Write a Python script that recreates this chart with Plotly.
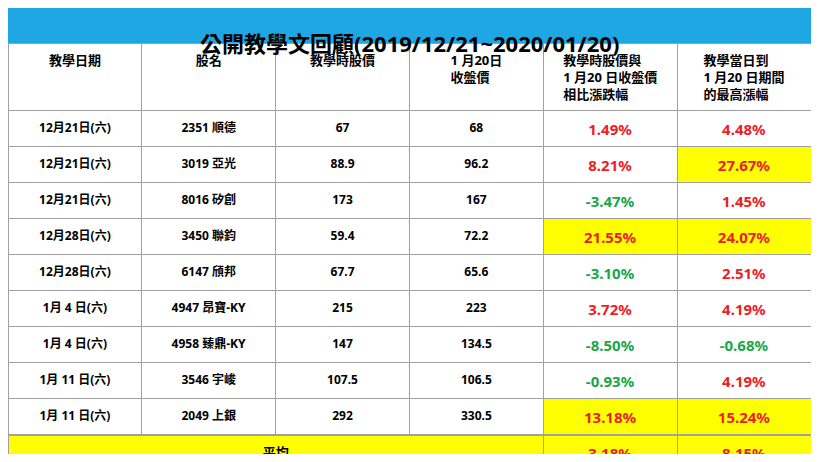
import plotly.graph_objects as go

dates = ["12月21日(六)", "12月21日(六)", "12月21日(六)", "12月28日(六)", "12月28日(六)",
         "1月 4 日(六)", "1月 4 日(六)", "1月 11 日(六)", "1月 11 日(六)", "1月 18 日(六)", "1月 18 日(六)"]
stocks = ["2351 順德", "3019 亞光", "8016 矽創", "3450 聯鈞", "6147 頎邦", "4947 昂寶-KY",
          "4958 臻鼎-KY", "3546 宇峻", "2049 上銀", "8271 宇瞻", "6213 聯茂"]
price_teach = ["67", "88.9", "173", "59.4", "67.7", "215", "147", "107.5", "292", "46.2", "144.5"]
price_close = ["68", "96.2", "167", "72.2", "65.6", "223", "134.5", "106.5", "330.5", "46.7", "147"]
change_pct = [1.49, 8.21, -3.47, 21.55, -3.10, 3.72, -8.50, -0.93, 13.18, 1.08, 1.73]
max_pct = [4.48, 27.67, 1.45, 24.07, 2.51, 4.19, -0.68, 4.19, 15.24, 4.76, 1.73]
avg_change, avg_max = 3.18, 8.15

headers = ["教學日期", "股名", "教學時股價", "1 月20日<br>收盤價",
           "教學時股價與<br>1 月20 日收盤價<br>相比漲跌幅", "教學當日到<br>1 月20 日期間<br>的最高漲幅"]

YELLOW = "#ffff00"
RED = "#ee1c25"
GREEN = "#1aa64a"
hl_change = [False, False, False, True, False, False, False, False, True, False, False]
hl_max = [False, True, False, True, False, False, False, False, True, False, False]

def pct(v):
    return f"<b>{v:.2f}%</b>"

def colr(v):
    return RED if v >= 0 else GREEN

bold = lambda xs: [f"<b>{x}</b>" for x in xs]
n = len(dates)
W, H = 803, 446
TITLE_H, HEAD_H, ROW_H, FOOT_H = 35, 62, 30, 21
main_bottom = TITLE_H + HEAD_H + ROW_H * n
font_fam = "Noto Sans, Noto Sans CJK TC"

fig = go.Figure()
fig.add_trace(go.Table(
    domain=dict(x=[0, 1], y=[1 - main_bottom / H, 1 - TITLE_H / H]),
    columnwidth=[1] * 6,
    header=dict(values=[f"<b>{h}</b>" for h in headers], height=HEAD_H,
                fill_color="white", line_color="#a0a0a0", align="center",
                font=dict(family=font_fam, size=13, color="black")),
    cells=dict(values=[bold(dates), bold(stocks), bold(price_teach), bold(price_close),
                       [pct(v) for v in change_pct], [pct(v) for v in max_pct]],
               height=ROW_H, align="center", line_color="#a0a0a0",
               fill_color=[["white"] * n] * 4 +
                          [[YELLOW if h else "white" for h in hl_change],
                           [YELLOW if h else "white" for h in hl_max]],
               font=dict(family=font_fam, size=[12, 12, 12, 12, 15, 15],
                         color=[["black"] * n] * 4 + [[colr(v) for v in change_pct],
                                                      [colr(v) for v in max_pct]]))
))
fig.add_trace(go.Table(
    domain=dict(x=[0, 1], y=[0, 1 - main_bottom / H]),
    columnwidth=[4, 1, 1],
    header=dict(values=["<b>平均</b>", pct(avg_change), pct(avg_max)], height=FOOT_H,
                fill_color=YELLOW, line_color="#a0a0a0", align="center",
                font=dict(family=font_fam, size=[13, 15, 15], color=["black", RED, RED])),
))
fig.add_shape(type="rect", xref="paper", yref="paper", x0=0, x1=1, y0=1 - TITLE_H / H, y1=1,
              fillcolor="#1ea7e3", line_width=0, layer="below")
fig.add_annotation(text="<b>公開教學文回顧(2019/12/21~2020/01/20)</b>", xref="paper", yref="paper",
                   x=0.5, y=1 - TITLE_H / 2 / H, showarrow=False,
                   font=dict(family=font_fam, size=22, color="black"))
fig.update_layout(width=W, height=H, margin=dict(l=0, r=0, t=0, b=0),
                  paper_bgcolor="white")
fig.write_html("out.html")
